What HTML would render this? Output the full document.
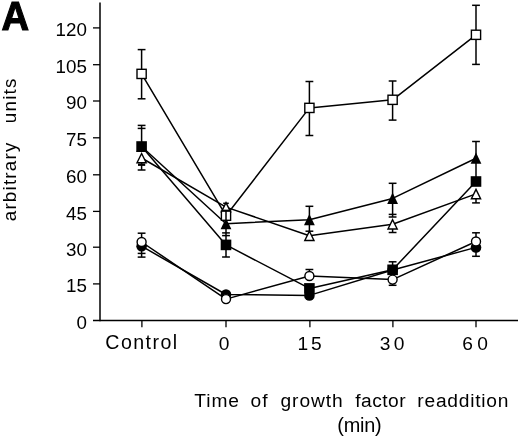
<!DOCTYPE html>
<html><head><meta charset="utf-8"><title>Figure A</title>
<style>
html,body{margin:0;padding:0;background:#fff;}
svg{display:block;will-change:transform;}
text{font-family:"Liberation Sans",sans-serif;fill:#000;}
</style></head><body>
<svg width="520" height="438" viewBox="0 0 520 438">
<rect width="520" height="438" fill="#fff"/>
<polyline points="141.6,73.9 226.0,215.7 309.4,107.9 392.6,99.8 476.0,34.8" fill="none" stroke="#000" stroke-width="1.5" stroke-linejoin="round"/>
<polyline points="141.6,146.5 226.0,244.9 309.4,288.4 392.6,269.8 476.0,181.5" fill="none" stroke="#000" stroke-width="1.5" stroke-linejoin="round"/>
<polyline points="141.6,146.5 226.0,223.7 309.4,219.7 392.6,198.4 476.0,158.2" fill="none" stroke="#000" stroke-width="1.5" stroke-linejoin="round"/>
<polyline points="141.6,158.0 226.0,207.1 309.4,235.7 392.6,224.2 476.0,193.9" fill="none" stroke="#000" stroke-width="1.5" stroke-linejoin="round"/>
<polyline points="141.6,246.2 226.0,294.5 309.4,295.4 392.6,270.0 476.0,247.4" fill="none" stroke="#000" stroke-width="1.5" stroke-linejoin="round"/>
<polyline points="141.6,242.0 226.0,299.1 309.4,276.0 392.6,279.6 476.0,241.5" fill="none" stroke="#000" stroke-width="1.5" stroke-linejoin="round"/>
<line x1="141.6" y1="49.6" x2="141.6" y2="98.8" stroke="#000" stroke-width="1.5"/>
<line x1="137.7" y1="49.6" x2="145.5" y2="49.6" stroke="#000" stroke-width="1.5"/>
<line x1="137.7" y1="98.8" x2="145.5" y2="98.8" stroke="#000" stroke-width="1.5"/>
<line x1="309.4" y1="81.5" x2="309.4" y2="135.5" stroke="#000" stroke-width="1.5"/>
<line x1="305.5" y1="81.5" x2="313.3" y2="81.5" stroke="#000" stroke-width="1.5"/>
<line x1="305.5" y1="135.5" x2="313.3" y2="135.5" stroke="#000" stroke-width="1.5"/>
<line x1="392.6" y1="81.0" x2="392.6" y2="120.1" stroke="#000" stroke-width="1.5"/>
<line x1="388.7" y1="81.0" x2="396.5" y2="81.0" stroke="#000" stroke-width="1.5"/>
<line x1="388.7" y1="120.1" x2="396.5" y2="120.1" stroke="#000" stroke-width="1.5"/>
<line x1="476.0" y1="5.3" x2="476.0" y2="64.4" stroke="#000" stroke-width="1.5"/>
<line x1="472.1" y1="5.3" x2="479.9" y2="5.3" stroke="#000" stroke-width="1.5"/>
<line x1="472.1" y1="64.4" x2="479.9" y2="64.4" stroke="#000" stroke-width="1.5"/>
<line x1="141.6" y1="125.4" x2="141.6" y2="142.0" stroke="#000" stroke-width="1.5"/>
<line x1="137.7" y1="125.4" x2="145.5" y2="125.4" stroke="#000" stroke-width="1.5"/>
<line x1="137.7" y1="128.4" x2="145.5" y2="128.4" stroke="#000" stroke-width="1.5"/>
<line x1="141.6" y1="163.0" x2="141.6" y2="170.0" stroke="#000" stroke-width="1.5"/>
<line x1="137.7" y1="170.0" x2="145.5" y2="170.0" stroke="#000" stroke-width="1.5"/>
<line x1="138.0" y1="164.7" x2="145.2" y2="164.7" stroke="#000" stroke-width="2.4"/>
<line x1="141.6" y1="233.2" x2="141.6" y2="257.1" stroke="#000" stroke-width="1.5"/>
<line x1="137.7" y1="233.2" x2="145.5" y2="233.2" stroke="#000" stroke-width="1.5"/>
<line x1="137.7" y1="253.4" x2="145.5" y2="253.4" stroke="#000" stroke-width="1.5"/>
<line x1="137.7" y1="257.1" x2="145.5" y2="257.1" stroke="#000" stroke-width="1.5"/>
<line x1="226.0" y1="228.0" x2="226.0" y2="257.0" stroke="#000" stroke-width="1.5"/>
<line x1="222.1" y1="232.9" x2="229.9" y2="232.9" stroke="#000" stroke-width="1.5"/>
<line x1="222.1" y1="235.6" x2="229.9" y2="235.6" stroke="#000" stroke-width="1.5"/>
<line x1="222.1" y1="257.0" x2="229.9" y2="257.0" stroke="#000" stroke-width="1.5"/>
<line x1="309.4" y1="206.3" x2="309.4" y2="231.2" stroke="#000" stroke-width="1.5"/>
<line x1="305.5" y1="206.3" x2="313.3" y2="206.3" stroke="#000" stroke-width="1.5"/>
<line x1="305.5" y1="231.2" x2="313.3" y2="231.2" stroke="#000" stroke-width="1.5"/>
<line x1="309.4" y1="269.5" x2="309.4" y2="272.0" stroke="#000" stroke-width="1.5"/>
<line x1="305.5" y1="269.5" x2="313.3" y2="269.5" stroke="#000" stroke-width="1.5"/>
<line x1="392.6" y1="183.3" x2="392.6" y2="217.0" stroke="#000" stroke-width="1.5"/>
<line x1="388.7" y1="183.3" x2="396.5" y2="183.3" stroke="#000" stroke-width="1.5"/>
<line x1="388.7" y1="214.4" x2="396.5" y2="214.4" stroke="#000" stroke-width="1.5"/>
<line x1="388.7" y1="217.0" x2="396.5" y2="217.0" stroke="#000" stroke-width="1.5"/>
<line x1="392.6" y1="228.0" x2="392.6" y2="232.5" stroke="#000" stroke-width="1.5"/>
<line x1="388.7" y1="232.5" x2="396.5" y2="232.5" stroke="#000" stroke-width="1.5"/>
<line x1="392.6" y1="261.8" x2="392.6" y2="265.0" stroke="#000" stroke-width="1.5"/>
<line x1="388.7" y1="261.8" x2="396.5" y2="261.8" stroke="#000" stroke-width="1.5"/>
<line x1="392.6" y1="283.0" x2="392.6" y2="285.3" stroke="#000" stroke-width="1.5"/>
<line x1="388.7" y1="285.3" x2="396.5" y2="285.3" stroke="#000" stroke-width="1.5"/>
<line x1="476.0" y1="141.5" x2="476.0" y2="178.0" stroke="#000" stroke-width="1.5"/>
<line x1="472.1" y1="141.5" x2="479.9" y2="141.5" stroke="#000" stroke-width="1.5"/>
<line x1="476.0" y1="198.0" x2="476.0" y2="202.9" stroke="#000" stroke-width="1.5"/>
<line x1="472.1" y1="202.9" x2="479.9" y2="202.9" stroke="#000" stroke-width="1.5"/>
<line x1="476.0" y1="232.8" x2="476.0" y2="256.3" stroke="#000" stroke-width="1.5"/>
<line x1="472.1" y1="232.8" x2="479.9" y2="232.8" stroke="#000" stroke-width="1.5"/>
<line x1="472.1" y1="256.3" x2="479.9" y2="256.3" stroke="#000" stroke-width="1.5"/>
<polygon points="141.6,153.5 146.2,162.8 137.0,162.8" fill="#fff" stroke="#000" stroke-width="1.4" stroke-linejoin="miter"/>
<polygon points="226.0,202.6 230.6,211.9 221.4,211.9" fill="#fff" stroke="#000" stroke-width="1.4" stroke-linejoin="miter"/>
<polygon points="309.4,231.2 314.0,240.5 304.8,240.5" fill="#fff" stroke="#000" stroke-width="1.4" stroke-linejoin="miter"/>
<polygon points="392.6,219.7 397.2,229.0 388.0,229.0" fill="#fff" stroke="#000" stroke-width="1.4" stroke-linejoin="miter"/>
<polygon points="476.0,189.4 480.6,198.7 471.4,198.7" fill="#fff" stroke="#000" stroke-width="1.4" stroke-linejoin="miter"/>
<polygon points="141.6,140.7 147.0,152.0 136.2,152.0" fill="#000"/>
<polygon points="226.0,217.9 231.4,229.2 220.6,229.2" fill="#000"/>
<polygon points="309.4,213.9 314.8,225.2 304.0,225.2" fill="#000"/>
<polygon points="392.6,192.6 398.0,203.9 387.2,203.9" fill="#000"/>
<polygon points="476.0,152.4 481.4,163.7 470.6,163.7" fill="#000"/>
<rect x="137.0" y="69.3" width="9.2" height="9.2" fill="#fff" stroke="#000" stroke-width="1.4"/>
<rect x="221.4" y="211.1" width="9.2" height="9.2" fill="#fff" stroke="#000" stroke-width="1.4"/>
<rect x="304.8" y="103.3" width="9.2" height="9.2" fill="#fff" stroke="#000" stroke-width="1.4"/>
<rect x="388.0" y="95.2" width="9.2" height="9.2" fill="#fff" stroke="#000" stroke-width="1.4"/>
<rect x="471.4" y="30.2" width="9.2" height="9.2" fill="#fff" stroke="#000" stroke-width="1.4"/>
<rect x="136.3" y="141.2" width="10.6" height="10.6" fill="#000"/>
<rect x="220.7" y="239.6" width="10.6" height="10.6" fill="#000"/>
<rect x="304.1" y="283.1" width="10.6" height="10.6" fill="#000"/>
<rect x="387.3" y="264.5" width="10.6" height="10.6" fill="#000"/>
<rect x="470.7" y="176.2" width="10.6" height="10.6" fill="#000"/>
<circle cx="141.6" cy="246.2" r="5.3" fill="#000"/>
<circle cx="226.0" cy="294.5" r="5.3" fill="#000"/>
<circle cx="309.4" cy="295.4" r="5.3" fill="#000"/>
<circle cx="392.6" cy="270.0" r="5.3" fill="#000"/>
<circle cx="476.0" cy="247.4" r="5.3" fill="#000"/>
<circle cx="141.6" cy="242.0" r="4.5" fill="#fff" stroke="#000" stroke-width="1.4"/>
<circle cx="226.0" cy="299.1" r="4.5" fill="#fff" stroke="#000" stroke-width="1.4"/>
<circle cx="309.4" cy="276.0" r="4.5" fill="#fff" stroke="#000" stroke-width="1.4"/>
<circle cx="392.6" cy="279.6" r="4.5" fill="#fff" stroke="#000" stroke-width="1.4"/>
<circle cx="476.0" cy="241.5" r="4.5" fill="#fff" stroke="#000" stroke-width="1.4"/>
<line x1="226.0" y1="210.4" x2="226.0" y2="221.0" stroke="#000" stroke-width="1.5"/>
<line x1="222.1" y1="210.4" x2="229.9" y2="210.4" stroke="#000" stroke-width="1.5"/>
<line x1="223.2" y1="203.3" x2="228.8" y2="203.3" stroke="#000" stroke-width="1.5"/>
<line x1="100.0" y1="2.4" x2="100.0" y2="321.2" stroke="#000" stroke-width="1.5"/>
<line x1="93.0" y1="320.5" x2="518.0" y2="320.5" stroke="#000" stroke-width="1.4"/>
<line x1="93.0" y1="27.9" x2="100.0" y2="27.9" stroke="#000" stroke-width="1.3"/>
<text x="86.9" y="36.3" text-anchor="end" font-size="18.8">120</text>
<line x1="93.0" y1="64.7" x2="100.0" y2="64.7" stroke="#000" stroke-width="1.3"/>
<text x="86.9" y="73.1" text-anchor="end" font-size="18.8">105</text>
<line x1="93.0" y1="101.0" x2="100.0" y2="101.0" stroke="#000" stroke-width="1.3"/>
<text x="86.9" y="109.4" text-anchor="end" font-size="18.8">90</text>
<line x1="93.0" y1="137.8" x2="100.0" y2="137.8" stroke="#000" stroke-width="1.3"/>
<text x="86.9" y="146.2" text-anchor="end" font-size="18.8">75</text>
<line x1="93.0" y1="174.8" x2="100.0" y2="174.8" stroke="#000" stroke-width="1.3"/>
<text x="86.9" y="183.2" text-anchor="end" font-size="18.8">60</text>
<line x1="93.0" y1="211.4" x2="100.0" y2="211.4" stroke="#000" stroke-width="1.3"/>
<text x="86.9" y="219.8" text-anchor="end" font-size="18.8">45</text>
<line x1="93.0" y1="247.2" x2="100.0" y2="247.2" stroke="#000" stroke-width="1.3"/>
<text x="86.9" y="255.6" text-anchor="end" font-size="18.8">30</text>
<line x1="93.0" y1="283.9" x2="100.0" y2="283.9" stroke="#000" stroke-width="1.3"/>
<text x="86.9" y="292.3" text-anchor="end" font-size="18.8">15</text>
<text x="86.9" y="328.9" text-anchor="end" font-size="18.8">0</text>
<line x1="141.9" y1="320.5" x2="141.9" y2="327.3" stroke="#000" stroke-width="1.3"/>
<line x1="226.0" y1="320.5" x2="226.0" y2="327.3" stroke="#000" stroke-width="1.3"/>
<line x1="309.9" y1="320.5" x2="309.9" y2="327.3" stroke="#000" stroke-width="1.3"/>
<line x1="392.9" y1="320.5" x2="392.9" y2="327.3" stroke="#000" stroke-width="1.3"/>
<line x1="476.0" y1="320.5" x2="476.0" y2="327.3" stroke="#000" stroke-width="1.3"/>
<text x="105.32" y="349.4" font-size="19.6" style="letter-spacing:1.434px" >Control</text>
<text x="218.85" y="349.7" font-size="19.2" style="letter-spacing:0.000px" >0</text>
<text x="297.54" y="349.7" font-size="19.2" style="letter-spacing:2.696px" >15</text>
<text x="379.67" y="349.7" font-size="19.2" style="letter-spacing:3.509px" >30</text>
<text x="462.14" y="349.7" font-size="19.2" style="letter-spacing:4.339px" >60</text>
<text x="194.18" y="407.4" font-size="19.2" style="letter-spacing:0.972px" >Time</text>
<text x="250.59" y="407.4" font-size="19.2" style="letter-spacing:1.055px" >of</text>
<text x="280.49" y="407.4" font-size="19.2" style="letter-spacing:0.923px" >growth</text>
<text x="355.23" y="407.4" font-size="19.2" style="letter-spacing:0.491px" >factor</text>
<text x="417.33" y="407.4" font-size="19.2" style="letter-spacing:0.752px" >readdition</text>
<text x="337.37" y="432.1" font-size="19.9" style="letter-spacing:-0.261px" >(min)</text>
<g transform="translate(15.9,0) rotate(-90)">
<text x="-221.29" y="0" font-size="18.8" style="letter-spacing:1.221px" >arbitrary</text>
<text x="-123.30" y="0" font-size="18.8" style="letter-spacing:1.269px" >units</text>
</g>
<text transform="translate(1.4,30.2) scale(0.955,1)" x="0" y="0" font-size="40" font-weight="bold" stroke="#000" stroke-width="1.1" stroke-linejoin="miter">A</text>
</svg>
</body></html>
